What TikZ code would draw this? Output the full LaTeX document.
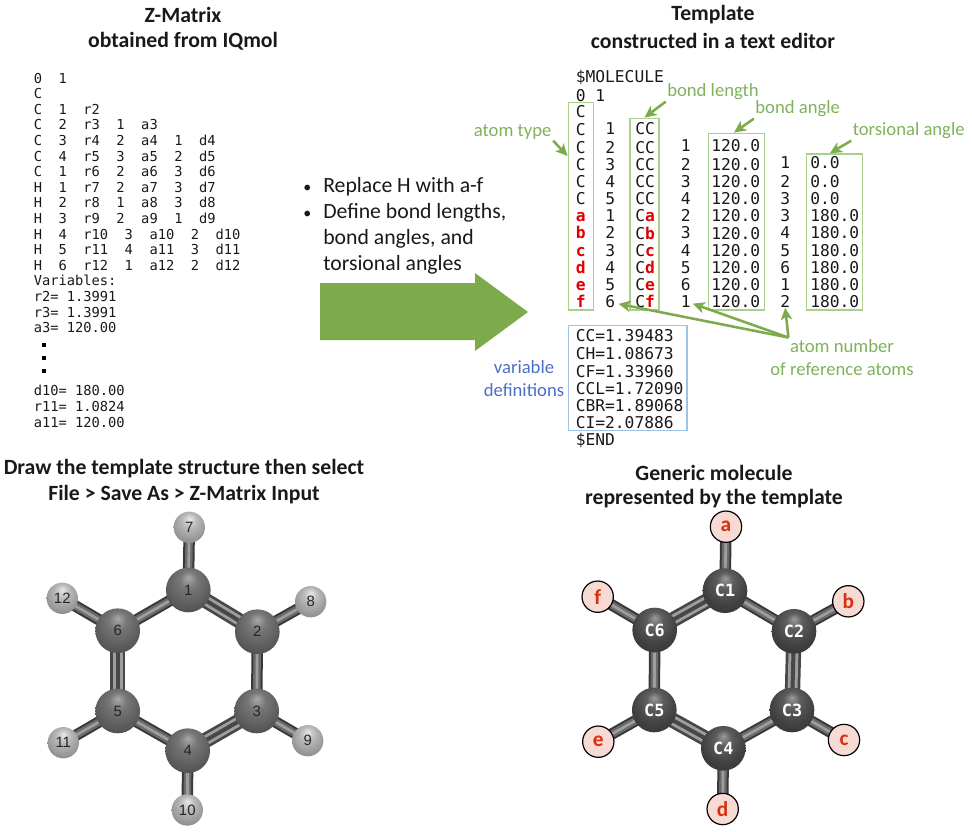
\documentclass[tikz,border=0pt]{standalone}
\usepackage{fontspec}
\usetikzlibrary{arrows.meta,fit,calc}
\setmainfont{Carlito}
\newfontfamily\zmono{DejaVu Sans Mono}
\newfontfamily\lbfont{Liberation Sans}
\definecolor{gArrow}{HTML}{7DAA4B}
\definecolor{gText}{HTML}{7FB25A}
\definecolor{gBox}{HTML}{A9D18E}
\definecolor{bBox}{HTML}{9DC3E6}
\definecolor{bText}{HTML}{4A6FC4}
\definecolor{redA}{HTML}{E00000}
\definecolor{redB}{HTML}{D9300F}
\definecolor{pinkF}{HTML}{F8DAD5}
\definecolor{ca}{HTML}{9A9A9A}
\definecolor{cb}{HTML}{5E5E5E}
\definecolor{cc}{HTML}{404040}
\definecolor{cd}{HTML}{2C2C2C}
\definecolor{la}{HTML}{A8A8A8}
\definecolor{lb}{HTML}{777777}
\definecolor{lc}{HTML}{565656}
\definecolor{ld}{HTML}{3C3C3C}
\definecolor{ha}{HTML}{E8E8E8}
\definecolor{hb}{HTML}{B8B8B8}
\definecolor{hc}{HTML}{8A8A8A}
\definecolor{hd}{HTML}{5E5E5E}
\pgfdeclareradialshading{cball}{\pgfpoint{0bp}{14bp}}{color(0bp)=(ca);color(9bp)=(cb);color(24bp)=(cc);color(44bp)=(cd);color(50bp)=(cd)}
\pgfdeclareradialshading{lball}{\pgfpoint{0bp}{14bp}}{color(0bp)=(la);color(10bp)=(lb);color(28bp)=(lc);color(46bp)=(ld);color(50bp)=(ld)}
\pgfdeclareradialshading{hball}{\pgfpoint{0bp}{14bp}}{color(0bp)=(ha);color(12bp)=(hb);color(32bp)=(hc);color(46bp)=(hd);color(50bp)=(hd)}
\pgfdeclarelayer{bg}
\pgfsetlayers{bg,main}
\newcommand{\rd}[1]{\textcolor{redA}{\bfseries #1}}
\tikzset{
  ttl/.style={font=\bfseries\fontsize{16.3}{18}\selectfont,inner sep=0pt,text=black!90},
  lblg/.style={font=\fontsize{14}{17}\selectfont,text=gText,inner sep=1pt},
  lblb/.style={font=\fontsize{14}{17}\selectfont,text=bText,inner sep=1pt},
  bul/.style={font=\fontsize{16.3}{19.5}\selectfont,inner sep=0pt,anchor=north west,align=left,text=black!90},
  zm/.style={font=\zmono\fontsize{10.3}{11.7}\selectfont,inner sep=0pt,anchor=north west,align=left,text=black!90},
  tm/.style={font=\zmono\fontsize{12.2}{12.885}\selectfont,inner sep=0pt,anchor=north west,align=left,text=black!90},
  gframe/.style={draw=gBox,line width=1.1pt,inner sep=0pt},
  bframe/.style={draw=bBox,line width=1.1pt,inner sep=0pt},
  callout/.style={draw=gArrow,line width=1.9pt,-{Stealth[length=9pt,width=8.5pt,inset=2.5pt]}},
  carbon/.style={circle,inner sep=0pt,minimum size=33.5pt,shade,shading=cball},
  lcarbon/.style={circle,inner sep=0pt,minimum size=33.5pt,shade,shading=lball},
  hydro/.style={circle,inner sep=0pt,minimum size=23.5pt,shade,shading=hball},
  numl/.style={font=\lbfont\fontsize{11.2}{13}\selectfont,text=black!85},
  cname/.style={font=\zmono\bfseries\fontsize{12.6}{14}\selectfont,text=white},
  sub/.style={circle,inner sep=0pt,minimum size=23.5pt,draw=black,line width=0.9pt,fill=pinkF,font=\bfseries\fontsize{16}{18}\selectfont,text=redB},
  sbond/.style={draw=black!78,line width=8.6pt,postaction={draw=black!58,line width=5.6pt},postaction={draw=black!38,line width=2pt}},
  dbond/.style={draw=black!72,line width=11.5pt,postaction={draw=black!38,line width=2.2pt,double=black!72,double distance=3pt}},
}
\begin{document}
\begin{tikzpicture}[x=0.75pt,y=-0.75pt]
\useasboundingbox (0,0) rectangle (972,832);

% titles
\node[ttl] (t1a) at (183,15) {Z-Matrix};
\node[ttl] (t1b) at (183,41) {obtained from IQmol};
\node[ttl] (t2a) at (713,15) {Template};
\node[ttl] (t2b) at (713,41) {constructed in a text editor};
\node[ttl] (t3a) at (184,469) {Draw the template structure then select};
\node[ttl] (t3b) at (184,495) {File > Save As > Z-Matrix Input};
\node[ttl] (t4a) at (714,473) {Generic molecule};
\node[ttl] (t4b) at (714,499) {represented by the template};

% z-matrix listing
\node[zm] (zmA) at (33.5,72) {\strut 0~~1\\C\\C~~1~~r2\\C~~2~~r3~~1~~a3\\C~~3~~r4~~2~~a4~~1~~d4\\C~~4~~r5~~3~~a5~~2~~d5\\C~~1~~r6~~2~~a6~~3~~d6\\H~~1~~r7~~2~~a7~~3~~d7\\H~~2~~r8~~1~~a8~~3~~d8\\H~~3~~r9~~2~~a9~~1~~d9\\H~~4~~r10~~3~~a10~~2~~d10\\H~~5~~r11~~4~~a11~~3~~d11\\H~~6~~r12~~1~~a12~~2~~d12\\Variables:\\r2=~1.3991\\r3=~1.3991\\a3=~120.00};
\foreach \n/\yy in {d1/345,d2/358,d3/371}
  \node[fill=black,inner sep=0pt,minimum size=2.8pt] (\n) at (44,\yy) {};
\node[zm] (zmB) at (33.5,384.7) {\strut d10=~180.00\\r11=~1.0824\\a11=~120.00};

% bullets
\node[bul,font=\fontsize{12}{19.5}\selectfont] (b1) at (303.2,174) {\strut •};
\node[bul,font=\fontsize{12}{19.5}\selectfont] (b2) at (303.2,200.5) {\strut •};
\node[bul] (s1) at (323,174.3) {\strut Replace H with a-f};
\node[bul] (s2) at (323,200.3) {\strut Define bond lengths,\\bond angles, and\\torsional angles};

% big arrow
\fill[gArrow] (320,283) -- (475,283) -- (475,273) -- (528,312) -- (475,351) -- (475,340) -- (320,340) -- cycle;

% template frames
\node[gframe,fit={(568.3,102.3) (593.7,310)}] (boxAtom) {};
\node[gframe,fit={(630,118.3) (659,310)}] (boxBond) {};
\node[gframe,fit={(708.3,133.3) (764.3,310)}] (boxAngle) {};
\node[gframe,fit={(806.7,154) (862.3,310)}] (boxTors) {};
\node[bframe,fit={(568.3,325.7) (687,430.7)}] (boxVar) {};

% template columns
\node[tm] (hdr) at (575.5,70) {\strut \$MOLECULE\\0 1};
\node[tm] (colA) at (575.5,105) {\strut C\\C\\C\\C\\C\\C\\\rd{a}\\\rd{b}\\\rd{c}\\\rd{d}\\\rd{e}\\\rd{f}};
\node[tm] (colB) at (605,122.2) {\strut 1\\2\\3\\4\\5\\1\\2\\3\\4\\5\\6};
\node[tm] (colC) at (635,122.2) {\strut CC\\CC\\CC\\CC\\CC\\C\rd{a}\\C\rd{b}\\C\rd{c}\\C\rd{d}\\C\rd{e}\\C\rd{f}};
\node[tm] (colD) at (680.5,139.4) {\strut 1\\2\\3\\4\\2\\3\\4\\5\\6\\1};
\node[tm] (colE) at (711,139.4) {\strut 120.0\\120.0\\120.0\\120.0\\120.0\\120.0\\120.0\\120.0\\120.0\\120.0};
\node[tm] (colF) at (780,156.5) {\strut 1\\2\\3\\3\\4\\5\\6\\1\\2};
\node[tm] (colG) at (810,156.5) {\strut 0.0\\0.0\\0.0\\180.0\\180.0\\180.0\\180.0\\180.0\\180.0};
\node[tm] (vars) at (575.5,329) {\strut CC=1.39483\\CH=1.08673\\CF=1.33960\\CCL=1.72090\\CBR=1.89068\\CI=2.07886\\\$END};

% labels
\node[lblg] (lblBond) at (713,92) {bond length};
\node[lblg] (lblAngle) at (797.7,109) {bond angle};
\node[lblg] (lblTors) at (908.7,131) {torsional angle};
\node[lblg] (lblType) at (512.7,131.7) {atom type};
\node[lblg] (lblNumA) at (842,345.7) {atom number};
\node[lblg] (lblNumB) at (842,369) {of reference atoms};
\node[lblb] (lblVarA) at (524,367) {variable};
\node[lblb] (lblVarB) at (524,390) {definitions};

% callouts
\draw[callout] (lblBond.south west) -- (boxBond.north);
\draw[callout] (lblAngle.south west) -- ($(boxAngle.north west)!0.46!(boxAngle.north east)$);
\draw[callout] (lblTors.south west) -- ($(boxTors.north west)!0.42!(boxTors.north east)$);
\draw[callout] (lblType.south east) -- ($(boxAtom.north west)!0.26!(boxAtom.south west)$);
\draw[callout] (lblNumA.north west) -- ($(colB.south east)+(3.2,-4.3)$);
\draw[callout] (lblNumA.north west) -- ($(colD.south east)+(2,-4.3)$);
\draw[callout] (lblNumA.north west) -- (colF.south);

% left molecule
\foreach \n/\px/\py/\t in {1/188.3/590/1,2/257.3/631.7/2,3/256.7/711/3,4/187.7/750.7/4,5/117.7/711/5,6/117.7/630.7/6}
  \node[lcarbon,numl] (L\n) at (\px,\py) {\t};
\foreach \n/\px/\py/\t in {7/189.3/527.3/7,8/310.7/601.7/8,9/307.7/740.7/9,10/187.3/810/10,11/63.3/742.7/11,12/62.3/598.3/12}
  \node[hydro,numl] (L\n) at (\px,\py) {\t};
\begin{pgfonlayer}{bg}
  \foreach \a/\b in {L1/L6,L2/L3,L4/L5,L1/L7,L2/L8,L3/L9,L4/L10,L5/L11,L6/L12}
    \draw[sbond] (\a.center) -- (\b.center);
  \foreach \a/\b in {L1/L2,L3/L4,L5/L6}
    \draw[dbond] (\a.center) -- (\b.center);
\end{pgfonlayer}

% right molecule
\foreach \n/\px/\py in {C1/725/590.7,C2/794/631.3,C3/792/710,C4/723.3/748.3,C5/654.3/710,C6/654.7/630}
  \node[carbon,cname] (\n) at (\px,\py) {\n};
\foreach \n/\px/\py in {a/726/526.7,b/848.3/601.3,c/844/740,d/722.7/809,e/598.3/741.7,f/597.7/596.7}
  \node[sub] (\n) at (\px,\py) {\n};
\begin{pgfonlayer}{bg}
  \foreach \a/\b in {C1/C2,C3/C4,C5/C6,C1/a,C2/b,C3/c,C4/d,C5/e,C6/f}
    \draw[sbond] (\a.center) -- (\b.center);
  \foreach \a/\b in {C2/C3,C4/C5,C6/C1}
    \draw[dbond] (\a.center) -- (\b.center);
\end{pgfonlayer}
\end{tikzpicture}
\end{document}
